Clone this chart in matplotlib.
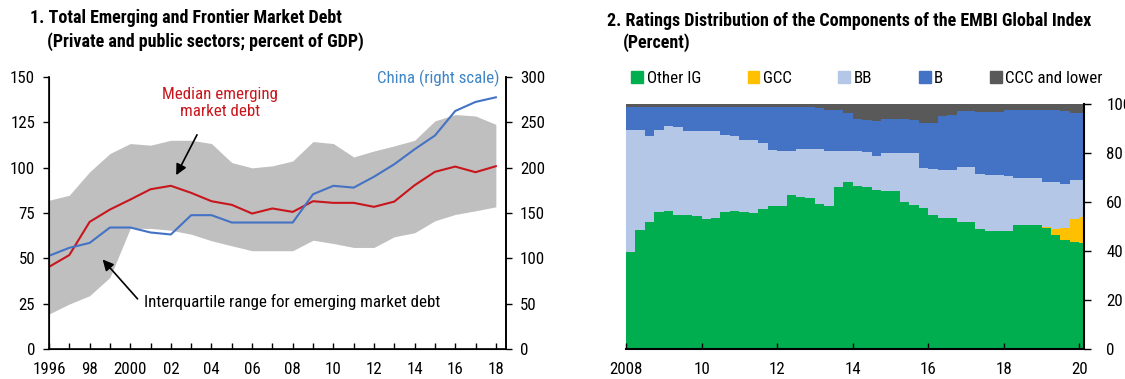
import numpy as np
import pandas as pd
import matplotlib
matplotlib.use("Agg")
import matplotlib.pyplot as plt
from matplotlib.patches import Patch

plt.rcParams['font.family'] = ['Roboto Condensed', 'DejaVu Sans']

# ---- panel 1: debt in percent of GDP ----
years = list(range(1996, 2019))
median_em = [45.3, 51.8, 70.1, 76.9, 82.4, 88.1, 90.0, 86.1, 81.5, 79.5, 74.7, 77.5,
             75.6, 81.5, 80.6, 80.6, 78.4, 81.3, 90.3, 97.7, 100.6, 97.5, 100.8]
iqr_low = [19.3, 24.8, 29.4, 39.5, 66.5, 66.5, 65.5, 63.3, 59.7, 56.9, 54.2, 54.2,
           54.2, 60.0, 58.2, 56.0, 56.0, 61.9, 64.1, 70.7, 74.2, 76.2, 78.4]
iqr_high = [82.0, 84.8, 97.7, 107.8, 113.3, 112.4, 115.1, 115.1, 113.3, 102.8, 99.9, 101.0,
            103.7, 114.4, 113.3, 105.9, 109.2, 112.0, 115.1, 125.8, 129.3, 128.5, 123.9]
china = [102.8, 111.6, 117.0, 134.0, 134.0, 128.5, 126.3, 147.6, 147.6, 139.5, 139.5, 139.5,
         139.5, 170.7, 180.0, 178.0, 190.0, 203.8, 220.3, 235.4, 262.5, 272.5, 277.6]
year_labels = ['1996', '98', '2000', '02', '04', '06', '08', '10', '12', '14', '16', '18']

# ---- panel 2: EMBIG ratings shares, quarterly (percent) ----
quarters = pd.period_range('2008Q1', '2020Q1', freq='Q')
other_ig = [39.5, 48.4, 52.0, 56.0, 56.2, 54.5, 54.5, 54.2, 53.2, 53.5, 56.0, 56.2, 55.8,
            55.5, 57.0, 58.2, 58.2, 63.0, 62.0, 61.5, 59.0, 58.2, 66.0, 68.0, 66.5, 66.3,
            65.0, 64.6, 64.6, 60.0, 58.6, 57.6, 54.5, 53.5, 53.5, 51.8, 51.8, 49.0, 48.3,
            48.3, 48.0, 50.7, 50.7, 50.7, 49.5, 46.5, 44.5, 43.5, 43.3]
gcc = [0.0] * 44 + [0.5, 2.5, 5.0, 9.5, 10.5]
bb = [49.8, 40.9, 34.8, 33.5, 34.7, 36.0, 34.6, 34.9, 35.6, 35.3, 31.5, 30.6, 29.7,
      29.9, 27.0, 23.1, 22.7, 17.9, 19.8, 20.3, 22.5, 22.7, 14.9, 12.9, 14.4, 14.2,
      13.6, 15.4, 15.4, 20.0, 21.4, 16.4, 19.1, 19.7, 19.7, 22.3, 22.3, 22.5, 22.9,
      22.9, 22.8, 19.1, 19.1, 19.1, 18.2, 19.2, 18.0, 15.8, 15.3]
b = [9.5, 9.5, 12.0, 9.3, 7.9, 8.3, 9.7, 9.8, 10.1, 10.1, 11.4, 12.1, 13.4,
     13.5, 14.9, 17.6, 18.0, 18.0, 17.1, 17.1, 17.0, 16.8, 16.8, 15.6, 13.1, 12.8,
     14.4, 13.9, 13.9, 13.9, 13.5, 18.2, 18.7, 21.8, 22.2, 22.9, 22.9, 25.2, 25.5,
     25.6, 26.6, 27.6, 27.6, 27.6, 29.2, 29.2, 29.5, 27.5, 27.2]
ccc = [1.2] * 7 + [1.1] * 13 + [1.5, 2.3, 2.3, 3.5, 6.0, 6.7, 7.0, 6.1, 6.1, 6.1, 6.5,
       7.8, 7.7, 5.0, 4.6, 3.0, 3.0, 3.3, 3.3, 3.2, 2.6, 2.6, 2.6, 2.6, 2.6, 2.6, 3.0,
       3.7, 3.7]
rating_names = ['Other IG', 'GCC', 'BB', 'B', 'CCC and lower']
rating_colors = ['#00AE4F', '#FFC000', '#B4C7E7', '#4472C4', '#595959']

RED = '#C8161D'
BLUE = '#4472C4'
FS = 12.2    # tick labels / annotations
TFS = 13     # panel titles

fig = plt.figure(figsize=(11.25, 3.79), dpi=100)

# ---------------- left panel ----------------
ax1 = fig.add_axes([49 / 1125, 30 / 379, 457 / 1125, 272 / 379])
ax1.fill_between(years, iqr_low, iqr_high, color='#BFBFBF', lw=0)
ax1.plot(years, median_em, color=RED, lw=1.5)
ax1.set_xlim(1996, 2018.5)
ax1.set_ylim(0, 150)
ax1.set_yticks(range(0, 151, 25))
ax1.set_xticks(range(1996, 2019, 2))
ax1.set_xticklabels(year_labels)
ax1.set_xticks(years, minor=True)
ax1.tick_params(axis='x', which='both', direction='in', length=4, width=1, labelsize=FS, pad=9)
ax1.tick_params(axis='y', direction='out', length=4, width=1, labelsize=FS, pad=6)
ax1.spines['top'].set_visible(False)
for s in ('left', 'bottom', 'right'):
    ax1.spines[s].set_linewidth(1.2)

# China on its own scale, drawn above the band
ax1r = ax1.twinx()
ax1r.plot(years, china, color=BLUE, lw=1.5)
ax1r.set_ylim(0, 300)
ax1r.set_yticks(range(0, 301, 50))
ax1r.tick_params(axis='y', direction='out', length=4, width=1, labelsize=FS, pad=6)
ax1r.spines['top'].set_visible(False)
ax1r.spines['right'].set_linewidth(1.2)

ax1.text(2004.4, 135.7, 'Median emerging\nmarket debt', color=RED, fontsize=FS,
         ha='center', va='center', linespacing=1.2)
ax1.text(2018.2, 149.5, 'China (right scale)', color='#3D85C6', fontsize=FS,
         ha='right', va='center')
ax1.text(2000.7, 25.9, 'Interquartile range for emerging market debt', color='black',
         fontsize=FS, ha='left', va='center')
arrow = dict(arrowstyle='-|>', color='black', lw=1.2, mutation_scale=16)
ax1.annotate('', xy=(2002.2, 94.5), xytext=(2003.35, 119.5), arrowprops=arrow)
ax1.annotate('', xy=(1998.55, 50.5), xytext=(2000.45, 26.5), arrowprops=arrow)

fig.text(30 / 1125, 1 - 18 / 379, '1. Total Emerging and Frontier Market Debt',
         fontsize=TFS, fontweight='bold', va='center')
fig.text(47 / 1125, 1 - 42 / 379, '(Private and public sectors; percent of GDP)',
         fontsize=TFS, fontweight='bold', va='center')

# ---------------- right panel ----------------
ax2 = fig.add_axes([626 / 1125, 30 / 379, 458 / 1125, 245 / 379])
edges = np.append(quarters.start_time.year + (quarters.start_time.month - 1) / 12, 2020 + 1.5 / 12)
shares = np.array([other_ig, gcc, bb, b, ccc])
bottom = np.zeros(len(quarters))
for vals, name, col in zip(shares, rating_names, rating_colors):
    ax2.stairs(bottom + vals, edges, baseline=bottom, fill=True, color=col, lw=0, label=name)
    bottom = bottom + vals
ax2.set_xlim(2008, edges[-1])
ax2.set_ylim(0, 100)
ax2.set_xticks(range(2008, 2021, 2))
ax2.set_xticklabels(['2008', '10', '12', '14', '16', '18', '20'])
ax2.tick_params(axis='x', direction='in', length=4, width=1, labelsize=FS, pad=9)
ax2.yaxis.tick_right()
ax2.set_yticks(range(0, 101, 20))
ax2.tick_params(axis='y', direction='out', length=5, width=1, labelsize=FS, pad=11)
for s in ('top', 'left'):
    ax2.spines[s].set_visible(False)
for s in ('right', 'bottom'):
    ax2.spines[s].set_linewidth(1.5)

handles = [Patch(color=c) for c in rating_colors]
ax2.legend(handles, rating_names, loc='lower left', bbox_to_anchor=(0.012, 1.075), ncol=5,
           frameon=False, fontsize=FS, handlelength=0.7, handleheight=0.7,
           handletextpad=0.2, columnspacing=2.75, borderaxespad=0, borderpad=0)

fig.text(607 / 1125, 1 - 21 / 379, '2. Ratings Distribution of the Components of the EMBI Global Index',
         fontsize=TFS, fontweight='bold', va='center')
fig.text(623 / 1125, 1 - 43 / 379, '(Percent)', fontsize=TFS, fontweight='bold', va='center')

fig.savefig('out.png', dpi=100)
